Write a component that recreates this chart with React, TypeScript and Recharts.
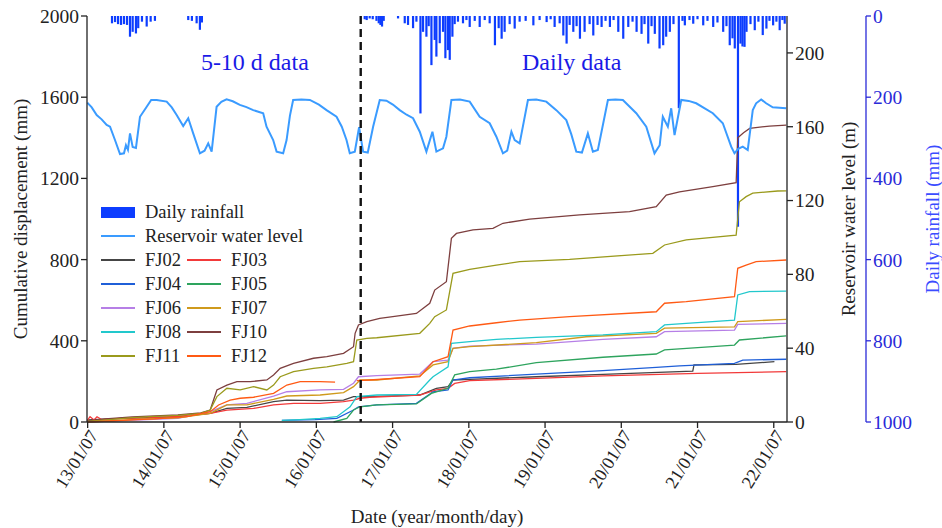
import {
  ComposedChart,
  Line,
  Bar,
  XAxis,
  YAxis,
  ReferenceLine,
  ReferenceDot,
  Legend,
} from "recharts";

const FONT = "Liberation Serif";
const RAIN_COLOR = "#0d3dff";
const WL_COLOR = "#3a9bff";
const AXIS_BLUE = "#2a2ad8";

// x values are decimal years
const xTickDates = [
  "2013-01-07", "2014-01-07", "2015-01-07", "2016-01-07", "2017-01-07",
  "2018-01-07", "2019-01-07", "2020-01-07", "2021-01-07", "2022-01-07",
];
const xTickLabels = [
  "13/01/07", "14/01/07", "15/01/07", "16/01/07", "17/01/07",
  "18/01/07", "19/01/07", "20/01/07", "21/01/07", "22/01/07",
];
const splitDate = "2016-08-07";

const dispTicks = [0, 400, 800, 1200, 1600, 2000];
const wlTicks = [0, 40, 80, 120, 160, 200];
const rainTicks = [0, 200, 400, 600, 800, 1000];

// daily rainfall (mm)
const rainfall: [number, number][] = [
  [2013.336, 18], [2013.376, 15], [2013.415, 20], [2013.454, 22], [2013.493, 20],
  [2013.533, 22], [2013.572, 51], [2013.607, 39], [2013.65, 43], [2013.68, 30],
  [2013.729, 14], [2013.791, 26], [2013.843, 14], [2013.899, 12],
  [2014.336, 10], [2014.384, 12], [2014.446, 18], [2014.489, 34], [2014.515, 16],
  [2016.651, 8], [2016.677, 10], [2016.716, 6], [2016.756, 8], [2016.805, 12],
  [2016.835, 18], [2016.857, 22], [2016.878, 26], [2016.9, 12], [2017.088, 6],
  [2017.176, 18], [2017.219, 22], [2017.285, 30], [2017.329, 14], [2017.382, 240],
  [2017.416, 39], [2017.46, 51], [2017.49, 25], [2017.526, 121], [2017.569, 59],
  [2017.591, 100], [2017.635, 67], [2017.678, 39], [2017.709, 104], [2017.743, 84],
  [2017.766, 108], [2017.801, 51], [2017.831, 20], [2017.874, 14], [2017.94, 18],
  [2017.985, 10],
  [2018.028, 27], [2018.094, 12], [2018.159, 27], [2018.225, 10], [2018.29, 18],
  [2018.359, 72], [2018.408, 30], [2018.447, 56], [2018.486, 39], [2018.552, 20],
  [2018.618, 31], [2018.683, 14], [2018.762, 12], [2018.863, 23], [2018.945, 10],
  [2019.037, 15], [2019.09, 8], [2019.142, 27], [2019.208, 18], [2019.256, 48],
  [2019.299, 68], [2019.339, 22], [2019.387, 39], [2019.43, 25], [2019.474, 56],
  [2019.535, 39], [2019.601, 20], [2019.649, 48], [2019.705, 22], [2019.758, 27],
  [2019.81, 12], [2019.867, 27], [2019.915, 10], [2019.977, 39],
  [2020.042, 56], [2020.108, 27], [2020.164, 14], [2020.217, 39], [2020.282, 44],
  [2020.321, 20], [2020.37, 68], [2020.413, 25], [2020.456, 44], [2020.518, 80],
  [2020.566, 72], [2020.605, 51], [2020.653, 39], [2020.701, 20], [2020.771, 227],
  [2020.819, 12], [2020.85, 23], [2020.911, 10], [2020.96, 19],
  [2021.016, 8], [2021.091, 23], [2021.147, 12], [2021.222, 27], [2021.278, 16],
  [2021.353, 39], [2021.396, 25], [2021.439, 72], [2021.475, 55], [2021.505, 80],
  [2021.547, 519], [2021.58, 68], [2021.606, 75], [2021.633, 76], [2021.659, 39],
  [2021.711, 20], [2021.767, 35], [2021.815, 14], [2021.872, 47], [2021.92, 31],
  [2021.96, 12], [2022.008, 23], [2022.051, 14], [2022.094, 35], [2022.13, 10],
  [2022.16, 19],
];

// reservoir water level (m)
const waterLevel: [number, number][] = [
  [2013.012, 173], [2013.07, 170.5], [2013.135, 166.3], [2013.2, 164], [2013.266, 161],
  [2013.31, 160], [2013.375, 152.8], [2013.441, 145.2], [2013.493, 145.6], [2013.519, 150],
  [2013.545, 147.5], [2013.572, 156.4], [2013.607, 149], [2013.65, 148.5], [2013.703, 165.4],
  [2013.791, 170.8], [2013.85, 174.5], [2013.922, 174.5], [2014.053, 173.6], [2014.12, 170.5],
  [2014.184, 166.4], [2014.27, 160.4], [2014.336, 164.6], [2014.401, 156.4], [2014.489, 145.6],
  [2014.55, 147], [2014.598, 151], [2014.643, 146.5], [2014.708, 170.8], [2014.77, 173.5],
  [2014.839, 174.8], [2014.92, 173.8], [2015.013, 171.8], [2015.1, 170.6], [2015.188, 169],
  [2015.319, 167.3], [2015.363, 160], [2015.45, 152.8], [2015.495, 146.5], [2015.581, 145.6],
  [2015.626, 152.8], [2015.67, 166], [2015.712, 174.5], [2015.82, 174.8], [2015.931, 174.5],
  [2016.05, 172], [2016.15, 169], [2016.281, 165.4], [2016.35, 160], [2016.412, 152.8],
  [2016.455, 145.6], [2016.521, 146.5], [2016.577, 159.7], [2016.63, 146.5], [2016.691, 146],
  [2016.761, 160], [2016.848, 174.5], [2016.936, 174.1], [2017.02, 172], [2017.11, 169],
  [2017.2, 166.5], [2017.285, 164.6], [2017.373, 157.3], [2017.46, 146.5], [2017.539, 157.3],
  [2017.591, 146.5], [2017.678, 148.3], [2017.722, 154.6], [2017.788, 174.5], [2017.9, 174.8],
  [2018.028, 173.6], [2018.159, 165.4], [2018.29, 161.9], [2018.378, 154.6], [2018.464, 145.6],
  [2018.52, 147], [2018.575, 157.3], [2018.618, 152.8], [2018.683, 151], [2018.792, 174.5],
  [2018.9, 174.8], [2019.033, 173.6], [2019.164, 169], [2019.295, 163.6], [2019.36, 156],
  [2019.426, 146.5], [2019.5, 146], [2019.578, 156.4], [2019.644, 146.5], [2019.709, 147.4],
  [2019.841, 174.5], [2019.94, 174.8], [2020.037, 174.5], [2020.213, 167.3], [2020.344, 160],
  [2020.452, 145.6], [2020.52, 150], [2020.561, 165.4], [2020.627, 160], [2020.671, 170],
  [2020.715, 155.5], [2020.803, 174.5], [2020.9, 174], [2020.999, 172.7], [2021.217, 167.3],
  [2021.348, 161.9], [2021.458, 149.2], [2021.501, 145.6], [2021.55, 148], [2021.61, 149.2],
  [2021.675, 147.4], [2021.741, 169], [2021.785, 172.7], [2021.851, 174.8], [2021.916, 172.7],
  [2022.003, 170.5], [2022.179, 170],
];

// cumulative displacement (mm)
const fj02: [number, number][] = [
  [2013.008, 10], [2013.3, 15], [2013.7, 20], [2014.2, 25], [2014.624, 43], [2014.843, 67],
  [2015.105, 72], [2015.455, 100], [2015.629, 108], [2016.066, 105], [2016.373, 108],
  [2016.504, 125], [2016.717, 125], [2017.373, 133], [2017.591, 166], [2017.744, 174],
  [2017.809, 207], [2018.028, 210], [2018.902, 223], [2019.775, 235], [2020.954, 251],
  [2020.97, 281], [2021.042, 281], [2021.523, 284], [2022.025, 297],
];
const fj03: [number, number][] = [
  [2013.008, 5], [2013.048, 26], [2013.1, 10], [2013.139, 26], [2013.2, 12], [2013.445, 18],
  [2013.8, 20], [2014.2, 28], [2014.624, 43], [2014.843, 59], [2015.193, 67], [2015.455, 84],
  [2015.717, 92], [2016.066, 92], [2016.373, 100], [2016.504, 108], [2016.59, 117],
  [2016.717, 122], [2017.373, 133], [2017.591, 158], [2017.744, 166], [2017.831, 190],
  [2018.028, 204], [2018.902, 215], [2019.775, 227], [2021.02, 240], [2022.179, 248],
];
const fj04: [number, number][] = [
  [2015.564, 8], [2016.0, 12], [2016.285, 18], [2016.504, 59], [2016.569, 75], [2016.809, 84],
  [2017.329, 92], [2017.547, 149], [2017.744, 158], [2017.809, 207], [2018.028, 218],
  [2018.902, 236], [2019.775, 253], [2020.475, 269], [2020.78, 276], [2021.501, 289],
  [2021.61, 305], [2022.179, 309],
];
const fj05: [number, number][] = [
  [2016.242, 0], [2016.416, 18], [2016.504, 59], [2016.59, 75], [2016.809, 84], [2017.329, 89],
  [2017.526, 141], [2017.744, 166], [2017.831, 232], [2018.028, 248], [2018.378, 260],
  [2018.902, 292], [2019.775, 319], [2020.475, 335], [2020.584, 355], [2021.501, 379],
  [2021.566, 404], [2022.179, 424],
];
const fj06: [number, number][] = [
  [2013.008, 0], [2013.4, 6], [2013.8, 12], [2014.2, 18], [2014.624, 51], [2014.843, 84],
  [2015.105, 92], [2015.455, 128], [2015.629, 149], [2016.066, 158], [2016.373, 161],
  [2016.504, 191], [2016.569, 223], [2016.809, 228], [2017.373, 236], [2017.547, 297],
  [2017.744, 305], [2017.809, 363], [2018.028, 374], [2018.902, 384], [2019.775, 407],
  [2020.475, 420], [2020.584, 445], [2021.501, 453], [2021.544, 481], [2022.179, 486],
];
const fj07: [number, number][] = [
  [2013.008, 0], [2013.4, 8], [2013.8, 15], [2014.2, 20], [2014.624, 43], [2014.843, 84],
  [2015.105, 84], [2015.455, 112], [2015.629, 128], [2016.066, 133], [2016.373, 145],
  [2016.504, 174], [2016.59, 207], [2016.809, 207], [2017.373, 227], [2017.547, 281],
  [2017.744, 297], [2017.809, 363], [2018.028, 371], [2018.902, 391], [2019.557, 420],
  [2020.475, 437], [2020.584, 462], [2021.501, 469], [2021.544, 494], [2022.179, 506],
];
const fj08: [number, number][] = [
  [2015.564, 8], [2015.8, 12], [2016.066, 18], [2016.285, 26], [2016.459, 75], [2016.547, 125],
  [2016.809, 133], [2017.329, 136], [2017.504, 207], [2017.547, 223], [2017.744, 272],
  [2017.788, 388], [2018.028, 396], [2018.378, 407], [2018.902, 417], [2019.775, 429],
  [2020.475, 445], [2020.584, 478], [2020.868, 486], [2021.501, 502], [2021.544, 626],
  [2021.698, 642], [2022.179, 645],
];
const fj10: [number, number][] = [
  [2013.008, 5], [2013.25, 15], [2013.6, 25], [2013.9, 30], [2014.2, 35], [2014.5, 45],
  [2014.624, 59], [2014.712, 158], [2014.843, 182], [2014.974, 199], [2015.148, 199],
  [2015.367, 207], [2015.455, 232], [2015.542, 264], [2015.717, 289], [2015.979, 314],
  [2016.154, 322], [2016.373, 338], [2016.504, 371], [2016.525, 437], [2016.569, 478],
  [2016.678, 494], [2016.848, 511], [2017.019, 519], [2017.329, 535], [2017.504, 585],
  [2017.569, 650], [2017.722, 691], [2017.788, 905], [2017.854, 929], [2018.071, 946],
  [2018.333, 954], [2018.464, 979], [2018.814, 999], [2019.47, 1020], [2020.125, 1036],
  [2020.475, 1061], [2020.606, 1118], [2020.78, 1134], [2021.217, 1159], [2021.523, 1179],
  [2021.544, 1400], [2021.62, 1425], [2021.7, 1446], [2021.96, 1458], [2022.179, 1462],
];
const fj11: [number, number][] = [
  [2013.008, 3], [2013.3, 12], [2013.6, 22], [2013.9, 28], [2014.2, 33], [2014.5, 42],
  [2014.624, 59], [2014.712, 125], [2014.843, 166], [2015.017, 158], [2015.193, 174],
  [2015.367, 158], [2015.455, 182], [2015.542, 223], [2015.717, 248], [2015.979, 264],
  [2016.154, 272], [2016.416, 289], [2016.504, 297], [2016.547, 404], [2016.678, 412],
  [2016.809, 415], [2017.373, 437], [2017.504, 486], [2017.569, 519], [2017.722, 552],
  [2017.809, 732], [2018.028, 752], [2018.378, 773], [2018.683, 790], [2019.338, 801],
  [2020.43, 831], [2020.584, 872], [2020.868, 897], [2021.523, 921], [2021.566, 1085],
  [2021.654, 1110], [2021.741, 1127], [2022.068, 1138], [2022.179, 1139],
];
const fj12: [number, number | null][] = [
  [2013.008, 0], [2013.3, 5], [2013.6, 10], [2013.9, 15], [2014.319, 26], [2014.624, 51],
  [2014.734, 84], [2014.886, 108], [2015.017, 117], [2015.193, 122], [2015.455, 141],
  [2015.629, 182], [2015.804, 199], [2016.066, 199], [2016.262, 196], [2016.4, null],
  [2016.547, 204], [2016.717, 207], [2017.373, 223], [2017.547, 297], [2017.744, 322],
  [2017.809, 453], [2018.028, 473], [2018.378, 489], [2018.683, 502], [2019.338, 519],
  [2020.475, 543], [2020.584, 585], [2020.868, 593], [2021.501, 617], [2021.544, 757],
  [2021.654, 773], [2021.785, 790], [2022.179, 798],
];

const toYear = (date: string) => {
  const d = new Date(date + "T00:00:00Z");
  const y = d.getUTCFullYear();
  const start = Date.UTC(y, 0, 1);
  const end = Date.UTC(y + 1, 0, 1);
  return y + (d.getTime() - start) / (end - start);
};

const xTicks = xTickDates.map(toYear);
const splitX = toYear(splitDate);
const xDomain = [2013.008, 2022.19];

const rainData = rainfall.map(([t, mm]) => ({ t, rain: mm }));
const wlData = waterLevel.map(([t, wl]) => ({ t, wl }));

const series = [
  { name: "FJ02", color: "#454545", data: fj02 },
  { name: "FJ03", color: "#f23a3a", data: fj03 },
  { name: "FJ04", color: "#1f5fd8", data: fj04 },
  { name: "FJ05", color: "#2ea45e", data: fj05 },
  { name: "FJ06", color: "#b67fe6", data: fj06 },
  { name: "FJ07", color: "#cf9a1c", data: fj07 },
  { name: "FJ08", color: "#22c8cc", data: fj08 },
  { name: "FJ10", color: "#7d3f3f", data: fj10 },
  { name: "FJ11", color: "#9a9a1c", data: fj11 },
  { name: "FJ12", color: "#ff5a14", data: fj12 },
];

const DateTick = ({ x, y, payload }: any) => {
  const i = xTicks.findIndex((v) => Math.abs(v - payload.value) < 1e-6);
  return (
    <g transform={`translate(${x},${y})`}>
      <text
        transform="translate(6,2) rotate(-58)"
        textAnchor="end"
        dominantBaseline="central"
        style={{ fontFamily: FONT, fontSize: 18, fill: "#222" }}
      >
        {xTickLabels[i]}
      </text>
    </g>
  );
};

const verticalTitle = (text: string, offsetX: number, color: string) => (props: any) => {
  const { x, y, height } = props.viewBox;
  const cx = x + offsetX;
  const cy = y + height / 2;
  return (
    <text
      x={cx}
      y={cy}
      transform={`rotate(-90 ${cx} ${cy})`}
      textAnchor="middle"
      dominantBaseline="central"
      style={{ fontFamily: FONT, fontSize: 19, fill: color }}
    >
      {text}
    </text>
  );
};

// fixed-width rainfall stick, placed from the bar geometry Recharts computes
const RainStick = (props: any) => {
  const { x, y, width, height, fill } = props;
  if (!height) return null;
  const top = height < 0 ? y + height : y;
  return <rect x={x + width / 2 - 1.1} y={top} width={2.2} height={Math.abs(height)} fill={fill} />;
};

const Swatch = ({ color, bar }: { color: string; bar?: boolean }) => (
  <span
    style={{
      display: "inline-block",
      width: 34,
      height: bar ? 11 : 2,
      background: color,
      marginRight: 10,
      verticalAlign: "middle",
    }}
  />
);

const LegendBox = () => {
  const rows: (typeof series)[] = [];
  for (let i = 0; i < series.length; i += 2) rows.push(series.slice(i, i + 2));
  return (
    <div style={{ fontFamily: FONT, fontSize: 18.5, color: "#222", lineHeight: "24px" }}>
      <div style={{ height: 24, whiteSpace: "nowrap", display: "flex", alignItems: "center" }}>
        <Swatch color={RAIN_COLOR} bar />
        <span>Daily rainfall</span>
      </div>
      <div style={{ height: 24, whiteSpace: "nowrap", display: "flex", alignItems: "center" }}>
        <Swatch color={WL_COLOR} />
        <span>Reservoir water level</span>
      </div>
      {rows.map((row) => (
        <div key={row[0].name} style={{ height: 24, whiteSpace: "nowrap", display: "flex" }}>
          {row.map((s) => (
            <div key={s.name} style={{ width: 86, display: "flex", alignItems: "center" }}>
              <Swatch color={s.color} />
              <span>{s.name}</span>
            </div>
          ))}
        </div>
      ))}
    </div>
  );
};

const tickStyle = { fontFamily: FONT, fontSize: 19.5, fill: "#222" };

export default function App() {
  return (
    <div style={{ position: "absolute", left: 0, top: 0, background: "#fff", fontFamily: FONT }}>
      <ComposedChart
        width={942}
        height={528}
        data={rainData}
        margin={{ top: 16, right: 0, bottom: 0, left: 0 }}
      >
        <XAxis
          dataKey="t"
          type="number"
          domain={xDomain}
          allowDataOverflow
          ticks={xTicks}
          interval={0}
          tick={<DateTick />}
          tickSize={6}
          height={106}
          stroke="#222"
          strokeWidth={1.3}
          label={{
            value: "Date (year/month/day)",
            position: "insideBottom",
            offset: 5,
            style: { fontFamily: FONT, fontSize: 19, fill: "#222" },
          }}
        />
        <XAxis
          xAxisId="top"
          dataKey="t"
          type="number"
          orientation="top"
          domain={xDomain}
          allowDataOverflow
          ticks={xTicks}
          interval={0}
          tickFormatter={() => ""}
          mirror
          height={0}
          tickSize={5}
          stroke="#222"
          strokeWidth={1.3}
        />
        <YAxis
          yAxisId="disp"
          domain={[0, 2000]}
          ticks={dispTicks}
          interval={0}
          width={87}
          tickSize={6}
          tick={tickStyle}
          stroke="#222"
          strokeWidth={1.3}
          label={{ content: verticalTitle("Cumulative displacement (mm)", 20, "#222") }}
        />
        <YAxis
          yAxisId="r1"
          orientation="right"
          domain={[0, 220]}
          ticks={wlTicks}
          interval={0}
          width={79}
          tickSize={6}
          tick={tickStyle}
          stroke="#222"
          strokeWidth={1.3}
          label={{ content: verticalTitle("Reservoir water level (m)", 61, "#222") }}
        />
        <YAxis
          yAxisId="r2"
          orientation="right"
          reversed
          domain={[0, 1000]}
          ticks={rainTicks}
          interval={0}
          width={76}
          tickSize={5}
          tick={{ ...tickStyle, fill: AXIS_BLUE }}
          stroke={AXIS_BLUE}
          strokeWidth={1.3}
          label={{ content: verticalTitle("Daily rainfall (mm)", 66, "#3b4cff") }}
        />

        {series.map((s) => (
          <Line
            key={s.name}
            name={s.name}
            data={s.data.map(([t, v]) => ({ t, v }))}
            dataKey="v"
            yAxisId="disp"
            stroke={s.color}
            strokeWidth={1.3}
            dot={false}
            connectNulls={false}
            isAnimationActive={false}
          />
        ))}
        <Line
          name="Reservoir water level"
          data={wlData}
          dataKey="wl"
          yAxisId="r1"
          stroke={WL_COLOR}
          strokeWidth={2}
          dot={false}
          isAnimationActive={false}
        />
        <Bar
          name="Daily rainfall"
          dataKey="rain"
          yAxisId="r2"
          fill={RAIN_COLOR}
          shape={<RainStick />}
          isAnimationActive={false}
        />

        <ReferenceLine
          x={splitX}
          xAxisId="top"
          yAxisId="disp"
          stroke="#111"
          strokeWidth={2.4}
          strokeDasharray="8 5"
        />
        <ReferenceDot
          x={2015.21}
          y={1778}
          yAxisId="disp"
          r={0}
          label={{
            value: "5-10 d data",
            position: "center",
            style: { fontFamily: FONT, fontSize: 24, fill: "#1a1ae6" },
          }}
        />
        <ReferenceDot
          x={2019.365}
          y={1778}
          yAxisId="disp"
          r={0}
          label={{
            value: "Daily data",
            position: "center",
            style: { fontFamily: FONT, fontSize: 24, fill: "#1a1ae6" },
          }}
        />
        <Legend
          layout="vertical"
          align="center"
          verticalAlign="middle"
          content={<LegendBox />}
          wrapperStyle={{ left: 101, top: 200, width: 260, height: 170 }}
        />
      </ComposedChart>
    </div>
  );
}
